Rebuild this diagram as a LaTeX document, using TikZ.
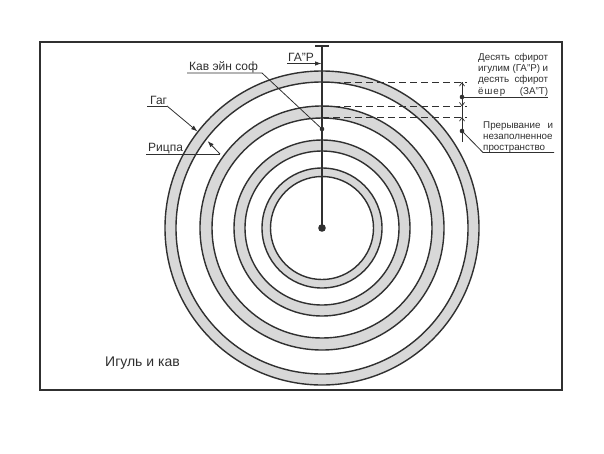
\documentclass[tikz,border=0pt]{standalone}
\usepackage{fontspec}
\setmainfont{Liberation Sans}
\usetikzlibrary{arrows.meta}
\definecolor{ink}{HTML}{303030}
\definecolor{ringfill}{HTML}{D8D8D8}
\begin{document}
\begin{tikzpicture}[x=1pt,y=-1pt,
  ringline/.style={draw=ink, line width=1.4pt},
  lbl/.style={inner sep=0pt, font=\fontsize{12}{14}\selectfont, text=ink, anchor=base west},
  biglbl/.style={inner sep=0pt, font=\fontsize{14}{16}\selectfont, text=ink, anchor=base west},
  small/.style={inner sep=0pt, font=\fontsize{9.8}{11}\selectfont, text=ink, anchor=base west},
  lead/.style={draw=ink, line width=0.8pt},
  tiparrow/.style={lead, -{Latex[length=6.5pt,width=4.5pt]}},
  dimtip/.style={draw=ink, line width=0.7pt, -{Straight Barb[length=3.5pt,width=5pt]}},
  dashln/.style={draw=ink, line width=0.8pt, dash pattern=on 7pt off 4pt}]
\useasboundingbox (0,0) rectangle (604,453);
\fill[white] (0,0) rectangle (604,453);
\draw[ink, line width=2.2pt] (40,42) rectangle (562,390);
\coordinate (c) at (322,228);
% rings
\foreach \ro/\ri in {157/146, 122/110, 88/77, 60/51.5} {
  \fill[ringfill, even odd rule] (c) circle[radius=\ro pt] (c) circle[radius=\ri pt];
  \draw[ringline] (c) circle[radius=\ro pt];
  \draw[ringline] (c) circle[radius=\ri pt];
}
% dashed guide lines
\coordinate (g1a) at (322,82);   \coordinate (g1b) at (467,82);
\coordinate (g2a) at (322,106.5); \coordinate (g2b) at (467,106.5);
\coordinate (g3a) at (322,117);  \coordinate (g3b) at (467,117);
\draw[dashln] (g1a) -- (g1b);
\draw[dashln] (g2a) -- (g2b);
\draw[dashln] (g3a) -- (g3b);
% vertical axis
\coordinate (top) at (322,46);
\coordinate (tl) at (315,46); \coordinate (tr) at (329,46);
\draw[ink, line width=1.2pt] (top) -- (c);
\draw[ink, line width=1.2pt] (tl) -- (tr);
\fill[ink] (c) circle[radius=3.8pt];
\coordinate (d) at (322,129);
\fill[ink] (d) circle[radius=2.3pt];
% ГА"Р
\node[lbl] (gar) at (288,61) {ГА"Р};
\coordinate (garU) at (287,63.5); \coordinate (garT) at (321.5,63.5);
\draw[tiparrow] (garU) -- (garT);
% Кав эйн соф
\node[lbl] (kav) at (189,70) {Кав эйн соф};
\coordinate (kavL) at (187,73); \coordinate (kavR) at (262,73);
\draw[lead] (kavL) -- (kavR) -- (d);
% Гаг
\node[lbl] (gag) at (150,104) {Гаг};
\coordinate (gagL) at (147,106); \coordinate (gagR) at (167,106);
\coordinate (gagT) at (197.5,131.5);
\draw[lead] (gagL) -- (gagR);
\draw[tiparrow] (gagR) -- (gagT);
% Рицпа
\node[lbl] (ric) at (148,151) {Рицпа};
\coordinate (ricL) at (146,154); \coordinate (ricR) at (220,154);
\coordinate (ricT) at (207.5,141);
\draw[lead] (ricL) -- (ricR);
\draw[tiparrow] (ricR) -- (ricT);
% dimension line
\coordinate (dimA) at (462,82); \coordinate (dimB) at (462,142);
\draw[ink, line width=0.7pt] (dimA) -- (dimB);
\coordinate (a1s) at (462,90);  \coordinate (a2s) at (462,99); \coordinate (a3s) at (462,125);
\coordinate (a1e) at (462,82);  \coordinate (a2e) at (462,106.5); \coordinate (a3e) at (462,117);
\draw[dimtip] (a1s) -- (a1e);
\draw[dimtip] (a2s) -- (a2e);
\draw[dimtip] (a3s) -- (a3e);
% first label block
\coordinate (d1) at (462,97); \coordinate (u1) at (548,97);
\fill[ink] (d1) circle[radius=2.3pt];
\draw[lead] (d1) -- (u1);
\node[small] (t1) at (478,60) {\makebox[70pt][s]{Десять сфирот}};
\node[small] (t2) at (478,71) {\makebox[70pt][s]{игулим (ГА"Р) и}};
\node[small] (t3) at (478,82) {\makebox[70pt][s]{десять сфирот}};
\node[small] (t4) at (478,94) {\makebox[70pt][s]{{\addfontfeature{LetterSpace=10}ёшер} (ЗА"Т)}};
% second label block
\coordinate (d2) at (462,131); \coordinate (u2a) at (483,152.5); \coordinate (u2b) at (554,152.5);
\fill[ink] (d2) circle[radius=2.3pt];
\draw[lead] (d2) -- (u2a) -- (u2b);
\node[small] (p1) at (483,128) {\makebox[70pt][s]{Прерывание и}};
\node[small] (p2) at (483,139.5) {незаполненное};
\node[small] (p3) at (483,150) {пространство};
% bottom label
\node[biglbl] (ig) at (105,366) {Игуль и кав};
\end{tikzpicture}
\end{document}
